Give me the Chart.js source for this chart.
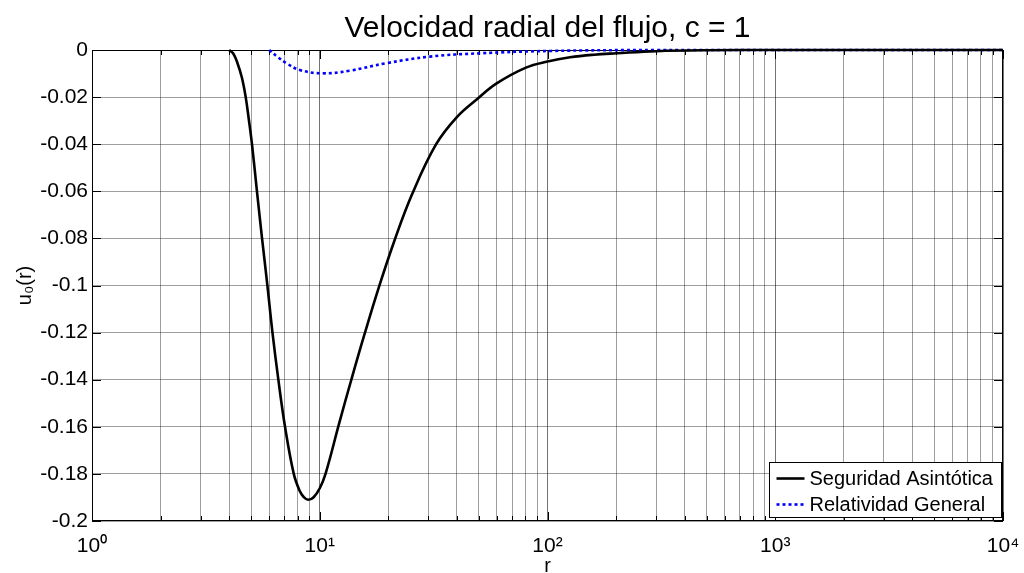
<!DOCTYPE html>
<html>
<head>
<meta charset="utf-8">
<script src="https://cdn.jsdelivr.net/npm/chart.js@4.4.0/dist/chart.umd.min.js"></script>
<style>
  html, body { margin: 0; padding: 0; background: #fff; }
  #wrap { width: 1024px; height: 573px; }
</style>
</head>
<body>
<div id="wrap"><canvas id="flowChart" width="1024" height="573"></canvas></div>
<script>
// Data
// Seguridad Asintotica (solid black)
const rSA = [4, 4.17, 4.35, 4.55, 4.73, 4.88, 5.04, 5.30, 5.58, 5.89, 6.20, 6.58, 7.04, 7.69, 8.17, 8.5, 8.89, 9.4, 10.0, 10.6, 12.2, 13.8, 15.7, 18.2, 21.2, 25.4, 32.3, 40, 49.6, 59.8, 80.4, 100, 125.6, 160, 201, 300, 500, 1000, 10000];
const uSA = [0, -0.0015, -0.0055, -0.0117, -0.02, -0.0294, -0.04, -0.06, -0.08, -0.10, -0.12, -0.14, -0.16, -0.18, -0.1873, -0.1898, -0.191, -0.1899, -0.1861, -0.18, -0.1581, -0.1396, -0.1209, -0.1006, -0.0814, -0.0614, -0.0403, -0.0285, -0.0205, -0.0142, -0.0075, -0.0049, -0.0031, -0.002, -0.0014, -0.0005, -0.0001, 0, 0];

// Relatividad General (dotted blue)
const rRG = [6, 6.56, 7.14, 8.17, 10.3, 13.5, 19.6, 30.5, 50.5, 103, 300, 1000, 10000];
const uRG = [0, -0.0031, -0.0056, -0.0085, -0.0099, -0.0088, -0.0056, -0.0028, -0.0014, -0.0004, 0, 0, 0];

// Axis ticks
const xDecades = [1, 10, 100, 1000, 10000];
const xMinorSteps = [1, 2, 3, 4, 5, 6, 7, 8, 9];
const yMin = -0.2, yMax = 0, yStep = 0.02;

const xTickValues = [];
xDecades.slice(0, -1).forEach(d => xMinorSteps.forEach(m => xTickValues.push(d * m)));
xTickValues.push(10000);

const sup = { '0': '\u2070', '1': '\u00b9', '2': '\u00b2', '3': '\u00b3', '4': '\u2074' };
const FONT = "'Liberation Sans', Arial, Helvetica, sans-serif";

Chart.defaults.font.family = FONT;
Chart.defaults.color = '#000';

// axes box, inward tick marks and the legend drawn inside the plot
const framePlugin = {
    id: 'frame',
    beforeDatasetsDraw(chart) {
        const { ctx, chartArea: a, scales } = chart;
        ctx.save();
        ctx.strokeStyle = '#000';
        ctx.lineWidth = 1;
        ctx.beginPath();
        scales.x.ticks.forEach(t => {
            const px = Math.round(scales.x.getPixelForValue(t.value)) + 0.5;
            const len = xDecades.includes(t.value) ? 9 : 5;
            ctx.moveTo(px, a.bottom); ctx.lineTo(px, a.bottom - len);
            ctx.moveTo(px, a.top); ctx.lineTo(px, a.top + len);
        });
        scales.y.ticks.forEach(t => {
            const py = Math.round(scales.y.getPixelForValue(t.value)) + 0.5;
            ctx.moveTo(a.left, py); ctx.lineTo(a.left + 9, py);
            ctx.moveTo(a.right, py); ctx.lineTo(a.right - 9, py);
        });
        ctx.stroke();
        ctx.strokeRect(Math.round(a.left) + 0.5, Math.round(a.top) + 0.5, Math.round(a.width) - 1, Math.round(a.height) - 1);
        ctx.restore();
    },
    afterDraw(chart) {
        const { ctx, chartArea: a } = chart;
        const w = 232, h = 55;
        const x0 = Math.round(a.right - w - 2) + 0.5, y0 = Math.round(a.bottom - h - 4) + 0.5;
        ctx.save();
        ctx.fillStyle = '#fff';
        ctx.fillRect(x0, y0, w, h);
        ctx.strokeStyle = '#000';
        ctx.lineWidth = 1;
        ctx.strokeRect(x0, y0, w, h);
        ctx.font = '20px ' + FONT;
        ctx.textBaseline = 'middle';
        ctx.textAlign = 'left';
        chart.data.datasets.forEach((ds, i) => {
            const cy = y0 + 16 + i * 26;
            ctx.setLineDash(ds.borderDash || []);
            ctx.strokeStyle = ds.borderColor;
            ctx.lineWidth = ds.borderWidth;
            ctx.beginPath();
            ctx.moveTo(x0 + 7, cy);
            ctx.lineTo(x0 + 35, cy);
            ctx.stroke();
            ctx.setLineDash([]);
            ctx.fillStyle = '#000';
            ctx.fillText(ds.label, x0 + 40, cy + 1);
        });
        ctx.restore();
    }
};

const ctx = document.getElementById('flowChart').getContext('2d');
const flowChart = new Chart(ctx, {
    type: 'line',
    data: {
        datasets: [
            {
                label: 'Seguridad Asintótica',
                data: rSA.map((r, i) => ({ x: r, y: uSA[i] })),
                borderColor: '#000000',
                borderWidth: 2.6,
                pointRadius: 0,
                tension: 0.4,
                clip: false,
            },
            {
                label: 'Relatividad General',
                data: rRG.map((r, i) => ({ x: r, y: uRG[i] })),
                borderColor: '#0000ff',
                borderWidth: 2.6,
                borderDash: [3, 3],
                pointRadius: 0,
                tension: 0.4,
                clip: false,
            }
        ]
    },
    options: {
        responsive: false,
        animation: false,
        devicePixelRatio: 1,
        layout: { padding: { left: 0, right: 21, top: 0, bottom: 0 } },
        scales: {
            x: {
                type: 'logarithmic',
                min: 1,
                max: 10000,
                afterBuildTicks: (scale) => {
                    scale.ticks = xTickValues.map(v => ({ value: v, major: xDecades.includes(v) }));
                },
                afterFit: (scale) => {
                    scale.height = 52;
                    scale.paddingLeft = 0;
                    scale.paddingRight = 0;
                },
                grid: {
                    drawTicks: false,
                    color: (c) => (c.tick && xDecades.includes(c.tick.value)) ? 'rgba(0,0,0,0.55)' : 'rgba(0,0,0,0.38)',
                    lineWidth: 1,
                },
                border: { display: false },
                ticks: {
                    autoSkip: false,
                    maxRotation: 0,
                    padding: 13,
                    font: { size: 21 },
                    callback: (v) => xDecades.includes(v) ? '10' + sup[String(Math.round(Math.log10(v)))] : '',
                },
                title: {
                    display: true,
                    text: 'r',
                    font: { size: 20 },
                    padding: { top: 0, bottom: -5 },
                },
            },
            y: {
                min: yMin,
                max: yMax,
                afterFit: (scale) => {
                    scale.width = 92;
                    scale.paddingTop = 0;
                    scale.paddingBottom = 0;
                },
                grid: {
                    drawTicks: false,
                    color: 'rgba(0,0,0,0.38)',
                    lineWidth: 1,
                },
                border: { display: false },
                ticks: {
                    stepSize: yStep,
                    padding: 4,
                    font: { size: 21 },
                    callback: (v) => {
                        const s = +Number(v).toFixed(2);
                        return s === 0 ? '0' : String(s);
                    },
                },
                title: {
                    display: true,
                    text: 'u₀(r)',
                    font: { size: 20 },
                    padding: { top: 13, bottom: 0 },
                },
            }
        },
        plugins: {
            legend: { display: false },
            tooltip: { enabled: false },
            title: {
                display: true,
                text: 'Velocidad radial del flujo, c = 1',
                fullSize: false,
                font: { size: 30, weight: 'normal' },
                padding: { top: 11, bottom: 3 },
            }
        }
    },
    plugins: [framePlugin]
});
</script>
</body>
</html>
